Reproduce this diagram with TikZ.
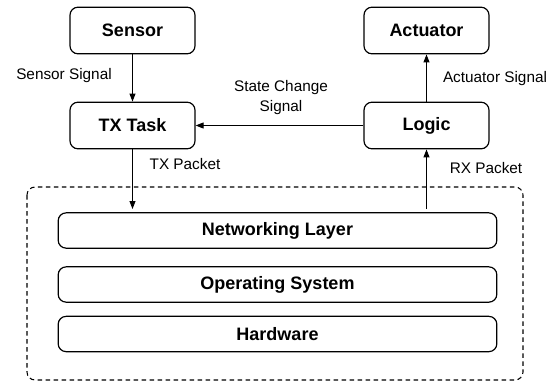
\documentclass[tikz,border=0pt]{standalone}
\usepackage{fontspec}
\setmainfont{Liberation Sans}
\usetikzlibrary{arrows.meta}

\tikzset{
  block/.style={draw, rounded corners=6pt, line width=0.9pt, minimum width=93.75pt,
    minimum height=35pt, font=\fontsize{13.5}{16}\selectfont\bfseries},
  layer/.style={draw, rounded corners=6pt, line width=0.9pt, minimum width=329pt,
    minimum height=26.5pt, font=\fontsize{13.5}{16}\selectfont\bfseries},
  lbl/.style={font=\fontsize{11.5}{15}\selectfont, align=center},
  >={Triangle[length=6pt,width=4.5pt]}
}

\begin{document}
\begin{tikzpicture}[x=0.75pt,y=-0.75pt]

\useasboundingbox (0,0) rectangle (557,383);

%% Application tasks
\node [block] (sensor) at (132.5,30.5) {Sensor};
\node [block] (actuator) at (426.5,30.5) {Actuator};
\node [block] (txtask) at (132.5,125.5) {TX Task};
\node [block] (logic) at (426.5,125.5) {Logic};

%% Platform stack
\draw [dashed, dash pattern=on 3.5pt off 2.5pt, line width=0.8pt, rounded corners=6pt]
  (27,187) rectangle (523,380);
\node [layer] (netlayer) at (277.5,230.5) {Networking Layer};
\node [layer] (opsys) at (277.5,284.5) {Operating System};
\node [layer] (hardware) at (277.5,334) {Hardware};
\coordinate (txin) at (132.5,209);
\coordinate (rxout) at (426.5,209);

%% Signals
\draw [->, line width=0.7pt] (sensor) -- (txtask);
\node [lbl] (sensorsig) at (64,76) {Sensor Signal};

\draw [->, line width=0.7pt] (logic) -- (txtask);
\node [lbl] (statesig) at (281,98) {State Change\\Signal};

\draw [->, line width=0.7pt] (logic) -- (actuator);
\node [lbl] (actsig) at (495,79) {Actuator Signal};

%% Packets
\draw [->, line width=0.7pt] (txtask) -- (txin);
\node [lbl] (txpkt) at (185,164) {TX Packet};

\draw [->, line width=0.7pt] (rxout) -- (logic);
\node [lbl] (rxpkt) at (486,168) {RX Packet};

\end{tikzpicture}
\end{document}
